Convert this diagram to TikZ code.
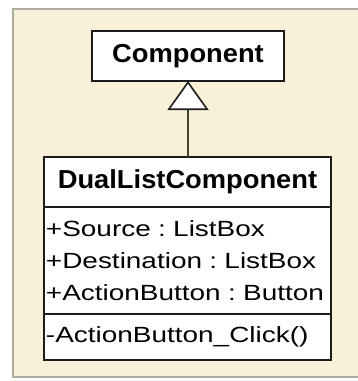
\documentclass[tikz,border=0pt]{standalone}
\usepackage{fontspec}
\usetikzlibrary{positioning,arrows.meta}
\newfontfamily\umlfont[FakeStretch=1.27]{Liberation Sans}
\newfontfamily\umlhead[FakeStretch=1.05]{Liberation Sans}
\definecolor{panel}{RGB}{248,240,216}
\definecolor{panelrule}{RGB}{172,172,162}
\definecolor{umlline}{RGB}{28,28,28}
\definecolor{linkline}{RGB}{72,66,50}
\frenchspacing
\tikzset{
	classbox/.style={draw=umlline, line width=1.6pt, fill=white, inner sep=0pt, outer sep=0pt},
	classname/.style={classbox, font=\umlhead\bfseries\fontsize{26}{30}\selectfont},
	members/.style={classbox, align=left, text width=285pt, inner xsep=1pt, font=\umlfont\fontsize{22}{32}\selectfont},
	inherit/.style={draw=linkline, line width=1.1pt, -{Triangle[length=29pt, width=41pt, fill=white, color=umlline, line width=1.6pt]}}
}
\begin{document}
\begin{tikzpicture}[x=1pt, y=-1pt]
	\useasboundingbox (0,0) rectangle (357,381);
	\draw[panelrule, fill=panel, line width=1.2pt] (13,9) rectangle (380,377);
	\node[classname, minimum width=192pt, minimum height=50pt] (comp) at (188,56) {Component};
	\node[classname, minimum width=287pt, minimum height=50pt] (dual) at (187.5,182) {DualListComponent};
	\node[members, minimum height=107pt, below=0pt of dual] (attrs) {\hspace*{1pt}+Source : ListBox\\\hspace*{1pt}+Destination : ListBox\\\hspace*{1pt}+ActionButton : Button};
	\node[members, minimum height=46pt, below=0pt of attrs] (ops) {\hspace*{1pt}-ActionButton\_Click()};
	\draw[inherit] (dual.north -| comp.south) -- (comp.south);
\end{tikzpicture}
\end{document}
